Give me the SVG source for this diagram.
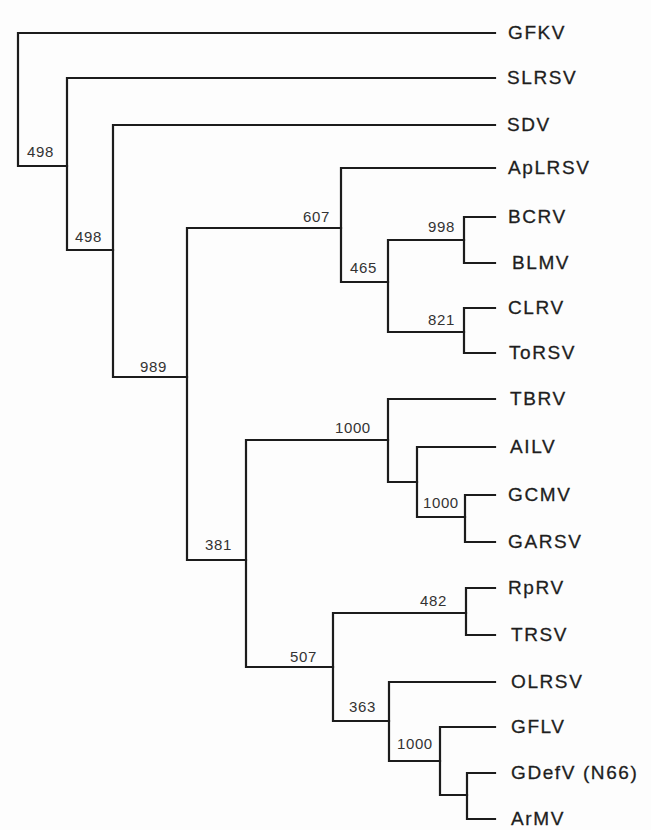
<svg xmlns="http://www.w3.org/2000/svg" width="651" height="830" viewBox="0 0 651 830">
<style>
.e{fill:none;stroke:#1c1c1c;stroke-width:2.2;stroke-linecap:square}
.t{font-family:"Liberation Sans",Arial,sans-serif;font-size:19px;fill:#1e1e1e;stroke:#1e1e1e;stroke-width:0.3;letter-spacing:1.6px}
.b{font-family:"Liberation Sans",Arial,sans-serif;font-size:15px;fill:#333;letter-spacing:0.6px}
</style>
<rect width="651" height="830" fill="#fdfdfd"/>
<g id="connectors">
<path class="e" d="M18,33 V166 M18,33 H495 M18,166 H67"/>
<path class="e" d="M67,78 V250 M67,78 H495 M67,250 H113"/>
<path class="e" d="M113,125 V377 M113,125 H495 M113,377 H187"/>
<path class="e" d="M187,228 V560 M187,228 H341 M187,560 H246"/>
<path class="e" d="M341,168 V282 M341,168 H495 M341,282 H388"/>
<path class="e" d="M388,240 V332 M388,240 H464 M388,332 H464"/>
<path class="e" d="M464,217 V263 M464,217 H495 M464,263 H495"/>
<path class="e" d="M464,308 V353 M464,308 H495 M464,353 H495"/>
<path class="e" d="M246,440 V667 M246,440 H388 M246,667 H333"/>
<path class="e" d="M388,399 V482 M388,399 H495 M388,482 H417"/>
<path class="e" d="M417,447 V517 M417,447 H495 M417,517 H465"/>
<path class="e" d="M465,495 V542 M465,495 H495 M465,542 H495"/>
<path class="e" d="M333,613 V721 M333,613 H466 M333,721 H389"/>
<path class="e" d="M466,588 V635 M466,588 H495 M466,635 H495"/>
<path class="e" d="M389,682 V761 M389,682 H495 M389,761 H440"/>
<path class="e" d="M440,727 V795 M440,727 H495 M440,795 H467"/>
<path class="e" d="M467,773 V819 M467,773 H495 M467,819 H495"/>
</g>
<g id="n_root"><text class="b" x="27" y="157">498</text></g>
<g id="n_2"><text class="b" x="75" y="242">498</text></g>
<g id="n_3"><text class="b" x="140" y="372">989</text></g>
<g id="n_4"><text class="b" x="303" y="222">607</text></g>
<g id="n_5"><text class="b" x="350" y="273">465</text></g>
<g id="n_6"><text class="b" x="428" y="232">998</text></g>
<g id="n_7"><text class="b" x="428" y="325">821</text></g>
<g id="n_8"><text class="b" x="205" y="550">381</text></g>
<g id="n_9"><text class="b" x="335" y="433">1000</text></g>
<g id="n_10"><text class="b" x="423" y="508">1000</text></g>
<g id="n_11"><text class="b" x="290" y="662">507</text></g>
<g id="n_12"><text class="b" x="420" y="606">482</text></g>
<g id="n_13"><text class="b" x="349" y="712">363</text></g>
<g id="n_14"><text class="b" x="397" y="749">1000</text></g>
<g id="GFKV"><text class="t" x="508" y="39">GFKV</text></g>
<g id="SLRSV"><text class="t" x="507" y="84">SLRSV</text></g>
<g id="SDV"><text class="t" x="507" y="131">SDV</text></g>
<g id="ApLRSV"><text class="t" x="508" y="174">ApLRSV</text></g>
<g id="BCRV"><text class="t" x="508" y="223">BCRV</text></g>
<g id="BLMV"><text class="t" x="512" y="269">BLMV</text></g>
<g id="CLRV"><text class="t" x="508" y="314">CLRV</text></g>
<g id="ToRSV"><text class="t" x="509" y="359">ToRSV</text></g>
<g id="TBRV"><text class="t" x="510" y="405">TBRV</text></g>
<g id="AILV"><text class="t" x="510" y="453">AILV</text></g>
<g id="GCMV"><text class="t" x="508" y="501">GCMV</text></g>
<g id="GARSV"><text class="t" x="508" y="548">GARSV</text></g>
<g id="RpRV"><text class="t" x="508" y="594">RpRV</text></g>
<g id="TRSV"><text class="t" x="511" y="641">TRSV</text></g>
<g id="OLRSV"><text class="t" x="511" y="688">OLRSV</text></g>
<g id="GFLV"><text class="t" x="511" y="733">GFLV</text></g>
<g id="GDefV"><text class="t" x="511" y="779">GDefV (N66)</text></g>
<g id="ArMV"><text class="t" x="511" y="825">ArMV</text></g>
</svg>
